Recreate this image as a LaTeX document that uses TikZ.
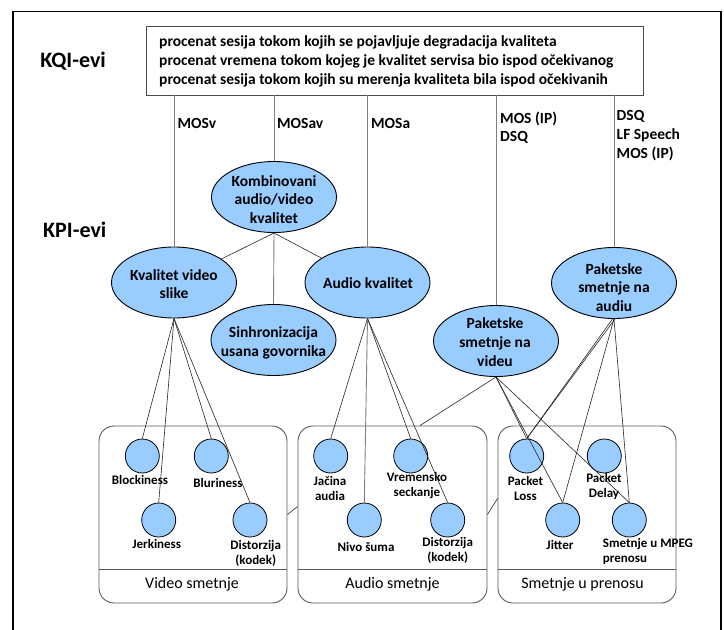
\documentclass[tikz,border=0pt]{standalone}
\usepackage{fontspec}
\setmainfont{Carlito}
\usetikzlibrary{shapes.geometric}
\definecolor{ellblue}{RGB}{153,204,255}
\begin{document}
\begin{tikzpicture}[x=1pt,y=-1pt,
  ell/.style={ellipse, draw=black, line width=0.9pt, fill=ellblue, minimum width=125pt, minimum height=71pt, inner sep=0pt},
  circ/.style={circle, draw=black, line width=0.8pt, fill=ellblue, minimum size=34pt, inner sep=0pt},
  elltext/.style={font=\fontsize{15.5}{18.7}\selectfont\bfseries, align=center, inner sep=0pt},
  ctext/.style={font=\fontsize{13}{15.5}\selectfont\bfseries, align=center, inner sep=0pt},
  mtext/.style={font=\fontsize{15.5}{18.5}\selectfont\bfseries, anchor=west, inner sep=0pt},
  bigtext/.style={font=\fontsize{22}{26}\selectfont\bfseries, anchor=east, inner sep=0pt},
  grp/.style={draw=black!65, line width=0.9pt, rounded corners=15pt, minimum height=177pt, inner sep=0pt},
  grptext/.style={font=\fontsize{16}{19}\selectfont, inner sep=0pt},
  kline/.style={draw=black!50, line width=0.9pt},
  cline/.style={draw=black!85, line width=0.6pt},
]
\useasboundingbox (0,0) rectangle (724,630);
\fill[white] (0,0) rectangle (724,630);
\draw[line width=1.6pt] (13,631) -- (13,11.5) -- (721,11.5) -- (721,631);

% KQI box
\node[draw=black!70, line width=0.9pt, minimum width=497pt, minimum height=69pt, inner sep=0pt] (kqi) at (394.5,60.5) {};
\node[font=\fontsize{15.5}{19}\selectfont\bfseries, align=left, anchor=west, inner sep=0pt] (kqitext) at (159,61)
 {procenat sesija tokom kojih se pojavljuje degradacija kvaliteta\\
  procenat vremena tokom kojeg je kvalitet servisa bio ispod očekivanog\\
  procenat sesija tokom kojih su merenja kvaliteta bila ispod očekivanih};

\node[bigtext] (kqilab) at (106,60.7) {KQI-evi};
\node[bigtext] (kpilab) at (106.5,230) {KPI-evi};

% KPI ellipses
\node[ell] (kab) at (274,197) {};
\node[ell] (kvs) at (174,282.5) {};
\node[ell] (aud) at (367.5,282.5) {};
\node[ell] (sinh) at (273.5,340) {};
\node[ell] (psv) at (496,341) {};
\node[ell] (psa) at (614,283) {};

\node[elltext] (kab-t) at (274,199.5) {Kombinovani\\audio/video\\kvalitet};
\node[elltext] (kvs-t) at (174,284) {Kvalitet video\\slike};
\node[elltext] (aud-t) at (368,283.5) {Audio kvalitet};
\node[elltext] (sinh-t) at (273.5,343) {Sinhronizacija\\usana govornika};
\node[elltext] (psv-t) at (495,342) {Paketske\\smetnje na\\videu};
\node[elltext] (psa-t) at (614,287.5) {Paketske\\smetnje na\\audiu};

% labels on KQI lines
\node[mtext] (l1) at (177.5,123) {MOSv};
\node[mtext] (l2) at (277,123) {MOSav};
\node[mtext] (l3) at (371,123) {MOSa};
\node[mtext] (l4a) at (500,118.5) {MOS (IP)};
\node[mtext] (l4b) at (500,137) {DSQ};
\node[mtext] (l5a) at (616.5,116.5) {DSQ};
\node[mtext] (l5b) at (616.5,135) {LF Speech};
\node[mtext] (l5c) at (616.5,153.5) {MOS (IP)};

% group boxes
\node[grp, minimum width=188pt] (vbox) at (193,514.5) {};
\node[grp, minimum width=189pt] (abox) at (392.5,514.5) {};
\node[grp, minimum width=178pt] (tbox) at (587,514.5) {};
\draw[black!65, line width=0.9pt] (99,569) -- (287,569);
\draw[black!65, line width=0.9pt] (298,569) -- (487,569);
\draw[black!65, line width=0.9pt] (498,569) -- (676,569);
\node[grptext] (vbox-t) at (192,584) {Video smetnje};
\node[grptext] (abox-t) at (392.5,584) {Audio smetnje};
\node[grptext] (tbox-t) at (582.5,584) {Smetnje u prenosu};

% circles
\node[circ] (blk) at (142.3,456) {};
\node[circ] (blr) at (211.3,456) {};
\node[circ] (jrk) at (158.7,520) {};
\node[circ] (dsv) at (250,520) {};
\node[circ] (jac) at (330.7,456) {};
\node[circ] (nvs) at (364.3,520) {};
\node[circ] (vrs) at (410.7,456) {};
\node[circ] (dsa) at (447.7,520) {};
\node[circ] (pl) at (526.7,456) {};
\node[circ] (pd) at (604.3,456) {};
\node[circ] (jit) at (562.7,520) {};
\node[circ] (mpg) at (629.3,520) {};

\node[ctext] (blk-t) at (140,480) {Blockiness};
\node[ctext] (blr-t) at (218,483) {Bluriness};
\node[ctext] (jrk-t) at (156.7,544) {Jerkiness};
\node[ctext] (dsv-t) at (255.7,553.5) {Distorzija\\(kodek)};
\node[ctext] (jac-t) at (330,488.5) {Jačina\\audia};
\node[ctext] (nvs-t) at (366,547) {Nivo šuma};
\node[ctext] (vrs-t) at (417,485.5) {Vremensko\\seckanje};
\node[ctext] (dsa-t) at (447.7,550.5) {Distorzija\\(kodek)};
\node[ctext] (pl-t) at (525.5,488.5) {Packet\\Loss};
\node[ctext] (pd-t) at (604,486.5) {Packet\\Delay};
\node[ctext] (jit-t) at (560,545) {Jitter};
\node[ctext, align=left, anchor=west] (mpg-t) at (602.7,551.5) {Smetnje u MPEG\\prenosu};

% KQI vertical connectors
\draw[kline] (kvs.north |- kqi.south) -- (kvs.north);
\draw[kline] (kab.north |- kqi.south) -- (kab.north);
\draw[kline] (aud.north |- kqi.south) -- (aud.north);
\draw[kline] (psv.north |- kqi.south) -- (psv.north);
\draw[kline] (psa.north |- kqi.south) -- (psa.north);

% KPI connectors
\draw[kline] (kab.south) -- (sinh.north);
\draw[cline] (kab.south) -- (kvs);
\draw[cline] (kab.south) -- (aud);

\draw[cline] (kvs.south) -- (blk.north);
\draw[cline] (kvs.south) -- (jrk.north);
\draw[cline] (kvs.south) -- (blr.north);
\draw[cline] (kvs.south) -- (dsv.north);

\draw[cline] (aud.south) -- (jac.north);
\draw[kline] (aud.south) -- (nvs.north);
\draw[cline] (aud.south) -- (vrs.north);
\draw[cline] (aud.south) -- (dsa.north);

\draw[cline] (psv.south) -- ([xshift=27.5pt]abox.north);
\draw[cline] (psv.south) -- (pl.north);
\draw[cline] (psv.south) -- (jit.north);
\draw[cline] (psv.south) -- (mpg.north);

\draw[cline] ([xshift=-1.5pt]psa.south) -- (pl.north);
\draw[cline] ([xshift=1pt]psa.south) -- (pl.north);
\draw[cline] (psa.south) -- (jit.north);
\draw[cline] (psa.south) -- (mpg.north);

% links between group boxes
\draw[cline] (vbox.east) -- ([yshift=8pt]abox.west);
\draw[cline] (abox.east) -- ([yshift=16pt]tbox.west);
\end{tikzpicture}
\end{document}
